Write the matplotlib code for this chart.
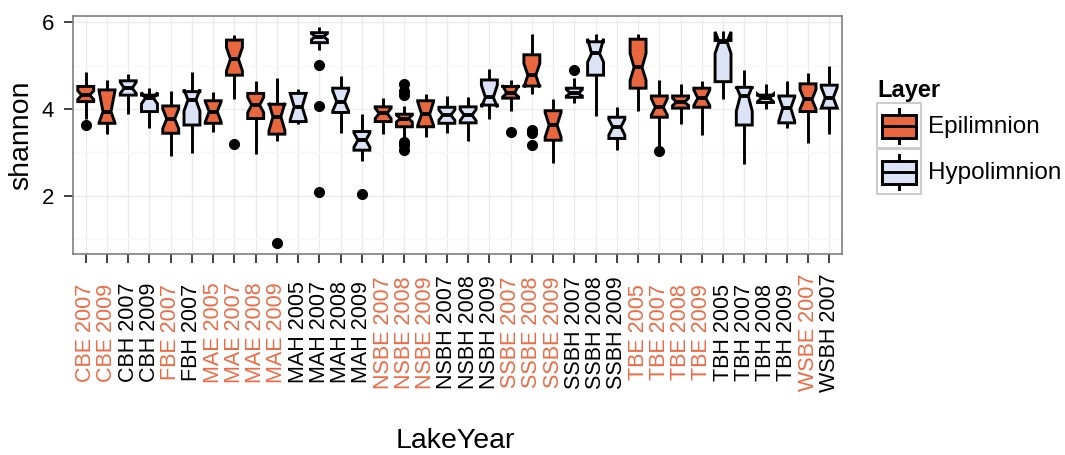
import matplotlib
matplotlib.use("Agg")
import matplotlib.pyplot as plt
from matplotlib.legend_handler import HandlerBase
from matplotlib.lines import Line2D
from matplotlib.patches import Rectangle

plt.rcParams["font.family"] = ["Liberation Sans", "DejaVu Sans"]

lake_year = [
    "CBE 2007", "CBE 2009", "CBH 2007", "CBH 2009", "FBE 2007", "FBH 2007",
    "MAE 2005", "MAE 2007", "MAE 2008", "MAE 2009", "MAH 2005", "MAH 2007",
    "MAH 2008", "MAH 2009", "NSBE 2007", "NSBE 2008", "NSBE 2009", "NSBH 2007",
    "NSBH 2008", "NSBH 2009", "SSBE 2007", "SSBE 2008", "SSBE 2009", "SSBH 2007",
    "SSBH 2008", "SSBH 2009", "TBE 2005", "TBE 2007", "TBE 2008", "TBE 2009",
    "TBH 2005", "TBH 2007", "TBH 2008", "TBH 2009", "WSBE 2007", "WSBH 2007",
]
layer = [
    "Epilimnion", "Epilimnion", "Hypolimnion", "Hypolimnion", "Epilimnion", "Hypolimnion",
    "Epilimnion", "Epilimnion", "Epilimnion", "Epilimnion", "Hypolimnion", "Hypolimnion",
    "Hypolimnion", "Hypolimnion", "Epilimnion", "Epilimnion", "Epilimnion", "Hypolimnion",
    "Hypolimnion", "Hypolimnion", "Epilimnion", "Epilimnion", "Epilimnion", "Hypolimnion",
    "Hypolimnion", "Hypolimnion", "Epilimnion", "Epilimnion", "Epilimnion", "Epilimnion",
    "Hypolimnion", "Hypolimnion", "Hypolimnion", "Hypolimnion", "Epilimnion", "Hypolimnion",
]
whislo = [3.78, 3.42, 3.88, 3.55, 2.92, 2.98, 3.46, 4.22, 2.96, 3.26, 3.65, 5.35,
          3.45, 2.81, 3.42, 3.34, 3.35, 3.44, 3.26, 3.76, 3.96, 4.35, 2.76, 4.13,
          3.84, 3.05, 3.96, 3.15, 3.65, 3.40, 4.24, 2.73, 3.99, 3.57, 3.21, 3.42]
q1 = [4.17, 3.67, 4.32, 3.94, 3.44, 3.63, 3.67, 4.78, 3.78, 3.42, 3.71, 5.53,
      3.92, 3.05, 3.71, 3.59, 3.59, 3.67, 3.68, 4.09, 4.25, 4.53, 3.28, 4.27,
      4.78, 3.32, 4.48, 3.81, 4.02, 4.04, 4.63, 3.63, 4.15, 3.68, 3.94, 4.02]
median = [4.32, 3.94, 4.48, 4.25, 3.77, 4.21, 3.94, 5.15, 4.09, 3.82, 4.05, 5.67,
          4.17, 3.28, 3.90, 3.78, 3.88, 3.86, 3.86, 4.27, 4.36, 4.78, 3.63, 4.36,
          5.28, 3.58, 4.96, 4.04, 4.16, 4.25, 5.55, 4.30, 4.25, 4.02, 4.22, 4.26]
q3 = [4.52, 4.44, 4.65, 4.32, 4.07, 4.40, 4.19, 5.59, 4.36, 4.11, 4.36, 5.76,
      4.48, 3.48, 4.05, 3.88, 4.19, 4.04, 4.05, 4.67, 4.52, 5.25, 3.96, 4.48,
      5.55, 3.81, 5.61, 4.30, 4.30, 4.48, 5.58, 4.50, 4.32, 4.30, 4.58, 4.55]
whishi = [4.86, 4.67, 4.81, 4.49, 4.42, 4.85, 4.40, 5.71, 4.65, 4.72, 4.45, 5.88,
          4.77, 3.88, 4.25, 4.08, 4.35, 4.30, 4.27, 4.92, 4.67, 5.72, 4.22, 4.72,
          5.73, 4.04, 5.73, 4.68, 4.57, 4.65, 5.80, 4.90, 4.57, 4.65, 4.82, 5.00]
notch_lo = [4.22, 3.68, 4.36, 4.12, 3.55, 3.95, 3.70, 4.88, 3.92, 3.50, 3.75, 5.60,
            3.95, 3.12, 3.78, 3.70, 3.62, 3.74, 3.73, 4.04, 4.28, 4.50, 3.35, 4.30,
            5.08, 3.40, 4.66, 3.86, 4.08, 4.08, 5.28, 3.95, 4.17, 3.72, 4.00, 4.02]
notch_hi = [4.42, 4.42, 4.62, 4.38, 4.00, 4.45, 4.17, 5.42, 4.27, 4.14, 4.36, 5.74,
            4.42, 3.45, 4.02, 3.86, 4.17, 3.98, 3.99, 4.55, 4.55, 5.05, 3.92, 4.45,
            5.62, 3.76, 5.28, 4.24, 4.25, 4.44, 5.78, 4.52, 4.34, 4.28, 4.45, 4.50]
outliers = [[3.63], [], [], [], [], [], [], [3.19], [], [0.92], [], [5.02, 4.08, 2.08],
            [], [2.05], [], [4.58, 4.42, 4.32, 3.25, 3.18, 3.05], [], [],
            [], [], [3.46], [3.52, 3.44, 3.17], [], [4.90],
            [], [], [], [3.03], [], [], [], [], [], [], [], []]

FILL = {"Epilimnion": "#E8673F", "Hypolimnion": "#DDE3F7"}
TEXT = {"Epilimnion": "#EE6A45", "Hypolimnion": "black"}
LW = 2.1


class BoxKeyHandler(HandlerBase):
    def create_artists(self, legend, orig_handle, xdescent, ydescent, width, height, fontsize, trans):
        x0, y0 = -xdescent, -ydescent
        cx = x0 + width / 2
        key = Rectangle((x0, y0), width, height, facecolor="white", edgecolor="#cccccc", lw=1.5, transform=trans)
        whisk = Line2D([cx, cx], [y0 + 0.12 * height, y0 + 0.87 * height], color="black", lw=LW, transform=trans)
        box = Rectangle((x0 + 0.12 * width, y0 + 0.23 * height), 0.76 * width, 0.5 * height,
                        facecolor=orig_handle.get_facecolor(), edgecolor="black", lw=LW, transform=trans)
        med = Line2D([x0 + 0.12 * width, x0 + 0.88 * width], [y0 + 0.48 * height] * 2,
                     color="black", lw=LW, transform=trans)
        return [key, whisk, box, med]


fig = plt.figure(figsize=(10.65, 4.55), dpi=100)
ax = fig.add_axes([73 / 1065, (455 - 254) / 455, 769 / 1065, 238 / 455])

stats = [
    {"whislo": whislo[i], "q1": q1[i], "med": median[i], "q3": q3[i], "whishi": whishi[i],
     "cilo": notch_lo[i], "cihi": notch_hi[i], "fliers": outliers[i]}
    for i in range(len(lake_year))
]
positions = list(range(1, len(lake_year) + 1))
parts = ax.bxp(
    stats, positions=positions, widths=0.75, shownotches=True, showcaps=False, patch_artist=True,
    boxprops=dict(edgecolor="black", lw=LW),
    whiskerprops=dict(color="black", lw=LW, solid_capstyle="butt"),
    medianprops=dict(color="black", lw=2.8, solid_capstyle="butt"),
    flierprops=dict(marker="o", markerfacecolor="black", markeredgecolor="black", markersize=7),
)
for patch, lay in zip(parts["boxes"], layer):
    patch.set_facecolor(FILL[lay])
    patch.set_zorder(3)
for m in parts["medians"]:
    m.set_zorder(4)

ax.set_xlim(0.4, 36.6)
ax.set_ylim(0.655, 6.145)
ax.set_yticks([2, 4, 6])
ax.set_yticks([1, 3, 5], minor=True)
ax.set_xticks(positions)
ax.set_xticklabels(lake_year, rotation=90, va="center", ha="center", fontsize=15.5)
for lbl, lay in zip(ax.get_xticklabels(), layer):
    lbl.set_color(TEXT[lay])
ax.tick_params(axis="x", which="major", length=6.5, width=1.2, color="#222222", pad=50)
ax.tick_params(axis="y", which="major", length=6.5, width=1.2, color="#222222", pad=7, labelsize=16)
ax.tick_params(which="minor", length=0)
ax.set_axisbelow(True)
ax.grid(which="major", color="#ebebeb", lw=1.0)
ax.grid(which="minor", axis="y", color="#f7f7f7", lw=1.0)
for sp in ax.spines.values():
    sp.set_color("#7f7f7f")
    sp.set_linewidth(1.2)

ax.set_ylabel("shannon", fontsize=20.5)
ax.yaxis.set_label_coords(-0.051, 0.5)
ax.set_xlabel("LakeYear", fontsize=20.5)
ax.xaxis.set_label_coords(0.497, -0.73)

handles = [Rectangle((0, 0), 1, 1, facecolor=FILL[k]) for k in ["Epilimnion", "Hypolimnion"]]
leg = ax.legend(
    handles, ["Epilimnion", "Hypolimnion"], handler_map={Rectangle: BoxKeyHandler()},
    loc="upper left", bbox_to_anchor=(877 / 1065, 1 - 79 / 455), bbox_transform=fig.transFigure,
    frameon=False, borderpad=0, borderaxespad=0, title="Layer", alignment="left",
    title_fontproperties={"weight": "bold", "size": 17}, fontsize=17.5,
    handlelength=1.81, handleheight=2.47, labelspacing=0.04, handletextpad=0.3,
)

fig.savefig("out.png", dpi=100, facecolor="white")
